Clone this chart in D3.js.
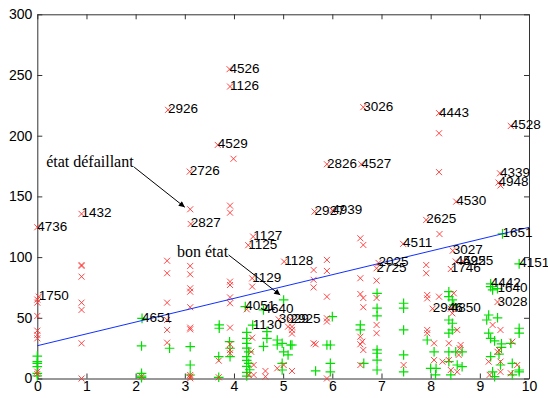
<!DOCTYPE html>
<html><head><meta charset="utf-8">
<script src="https://cdn.jsdelivr.net/npm/d3@7"></script>
<style>
html,body{margin:0;padding:0;background:#fff;}
svg{display:block;}
</style></head>
<body>
<svg id="chart" width="548" height="398"></svg>
<script>
// ---- data ----
const xTicks = [0,1,2,3,4,5,6,7,8,9,10];
const yTicks = [0,50,100,150,200,250,300];

// failing state (red x), unlabeled
const failing = [
 [0,65],[0,62.5],[0,51.5],[0,39.4],[0,35.9],[0,33.1],[0,5.6],[0,3.7],
 [0.9,93.5],[0.9,92.7],[0.9,83.9],[0.9,62.5],[0.9,56.5],[0.9,29],[0.9,0],
 [2.12,1.5],
 [2.64,97],[2.64,86.7],[2.64,62.5],[2.64,48.2],[2.64,40],[2.64,29.5],
 [3.11,139.4],[3.11,92.7],[3.11,85.8],[3.11,74.3],[3.11,71.5],[3.11,58.7],[3.11,41.9],[3.11,40.5],[3.11,2.9],[3.11,1.5],[3.11,0.2],
 [3.69,14.7],[3.69,1],
 [3.99,181],[3.92,142.4],[3.92,136.6],[3.92,79.8],[3.92,77],[3.92,66.8],[3.92,62],[3.92,41.9],[3.92,28.2],[3.92,23.5],[3.92,20.8],
 [4.37,75.7],[4.26,57],[4.37,33.6],[4.30,2.9],[4.40,2.9],[4.40,11.1],[4.35,22],
 [4.64,6.2],[4.88,8.4],[5.01,11.1],[5.18,6.2],[4.64,1.5],[5.18,40],[5.18,37],[5.18,42.7],[5.10,42.7],
 [5.62,89.4],[5.62,81.3],[5.62,75],[5.62,29],[5.66,28.2],
 [5.89,97.7],[5.89,88.6],[5.89,67.4],[5.89,49.6],[5.89,46.9],[5.89,0],
 [6.57,115.5],[6.63,110],[6.57,82.6],[6.57,69.6],[6.63,66.3],[6.63,58.7],[6.57,34.4],[6.61,30.3],[6.57,28.2],[6.63,23.5],[6.57,11.1],
 [6.90,80.6],[6.90,66.3],[6.90,44.1],[6.90,37.3],
 [7.45,11.1],
 [8.17,202],[8.17,170],[8.18,119],[7.91,93.5],[7.91,86.7],[7.93,68.8],[7.93,66],[8.17,67.4],[7.93,40],[7.93,37.3],[8.07,29],[8.07,15.2],[8.24,13.9],
 [8.47,70.2],[8.44,53.7],[8.54,40],[8.37,29],[8.61,27.6],[8.59,24.9],[8.37,15.2],[8.57,19.4],[8.41,7],[8.54,5.5],
 [9.42,159],[9.26,44.1],[9.42,40],[9.66,30.3],[9.39,23.5],[9.36,22],[9.18,13.9],[9.42,13.9],[9.76,11.1],[9.42,5.5],[9.63,4.3],[9.20,3]
];

// good state (green +), unlabeled
const good = [
 [0,18.5],[0,13.9],[0,12.5],[0,9.7],[0,4.3],[0,2.1],
 [2.12,26.8],[2.12,4.3],[2.12,2],[2.12,0.7],
 [2.69,24.9],
 [3.11,26.2],[3.11,11.1],[3.11,2.9],
 [3.70,44.1],[3.70,41.4],[3.69,18],[3.69,1],
 [3.91,30.3],[3.92,24.9],[3.92,18],
 [4.26,38],[4.26,33.1],[4.26,29],[4.26,25],[4.30,22],[4.26,18],[4.26,15],[4.30,12.5],[4.26,10],[4.32,7.2],[4.26,5],[4.26,2],
 [4.67,38.6],[4.67,33],[4.60,26.5],[4.88,31.7],[4.88,27.6],[5.01,64.7],[5.01,22],[5.15,27.6],[4.98,7],[4.98,29],[4.98,12.5],[5.10,19.4],[5.18,27.6],
 [5.66,6.2],[5.89,27.6],[6.0,51],[5.96,27.6],[5.96,12.5],[5.96,5.5],
 [6.57,44.1],[6.57,40],[6.64,12.5],[6.91,70.2],[6.91,57.9],[6.91,51.6],[6.91,23.5],[6.91,20.8],[6.91,15.2],[6.91,7],
 [7.45,62],[7.45,57.9],[7.45,40],[7.45,19.4],[7.45,5.5],
 [7.93,31.7],[8.0,8.4],[8.07,22],[8.11,8.4],[8.10,3],
 [8.37,71.5],[8.44,64.7],[8.37,67.4],[8.47,60.6],[8.37,48.2],[8.44,45.5],[8.37,37.3],[8.44,40],[8.37,22],[8.51,22],[8.64,22],[8.37,13.9],[8.54,11.1],[8.64,9.7],[8.41,3],
 [9.22,75.7],[9.26,73],[9.18,52.3],[9.14,48.2],[9.36,50],[9.80,41.4],[9.80,37.3],[9.18,37.3],[9.22,33],[9.30,31],[9.44,28.5],[9.44,25.6],[9.39,20],[9.22,18],[9.66,12.5],[9.42,11.1],[9.26,5.5],[9.80,7],[9.30,1.5],[9.66,3],[9.63,29],[9.80,5.5]
];

// labeled points: [x, y, label, class]  class "f" = failing, "g" = good
const labeled = [
 [3.91,254.8,"4526","f"],[3.92,240.5,"1126","f"],[2.66,221.3,"2926","f"],[3.67,192.4,"4529","f"],
 [3.10,170.4,"2726","f"],[6.63,223.5,"3026","f"],[8.17,218.6,"4443","f"],[9.63,208,"4528","f"],
 [5.89,176.5,"2826","f"],[6.59,176.5,"4527","f"],[9.41,169,"4339","f"],[9.38,161.4,"4948","f"],
 [8.52,145.7,"4530","f"],[7.91,130.6,"2625","f"],[7.44,110.9,"4511","f"],[8.45,105.3,"3027","f"],
 [5.64,137.5,"2927","f"],[6.0,138.5,"4939","f"],[0.90,135.6,"1432","f"],[0.0,124.6,"4736","f"],
 [3.12,127.3,"2827","f"],[4.39,116.9,"1127","f"],[4.29,109.8,"1125","f"],[5.02,96.3,"1128","f"],
 [4.37,82.5,"1129","f"],[4.91,48.7,"3029","f"],[5.15,48.7,"2925","f"],[0.03,67.4,"1750","f"],
 [8.04,57.5,"2946","f"],[8.41,57.5,"4850","f"],[9.36,63,"3028","f"],[8.41,90.2,"1746","f"],
 [8.51,96.4,"4525","f"],[8.66,96.4,"4925","f"],[6.94,95.2,"2025","f"],[6.90,90.8,"2725","f"],
 [2.13,49.5,"4651","g"],[9.46,119.1,"1651","g"],[9.80,94.4,"4151","g"],[9.22,78,"4442","g"],
 [9.36,74,"1640","g"],[4.23,59.2,"4051","g"],[4.60,56.5,"4640","g"],[4.38,44,"1130","g"]
];

// regression line
const lineX = [0, 10];
const lineY = [27, 124.5];

// annotations: text, text end point, arrow start, arrow end (data units)
const annotations = [
 {text:"état défaillant", tx:1.96, ty:174.1, x1:1.97, y1:174.1, x2:3.0, y2:141.1},
 {text:"bon état", tx:3.88, ty:100.4, x1:3.89, y1:101.8, x2:4.94, y2:68.8}
];

// ---- drawing ----
const svg = d3.select("#chart");
const x = d3.scaleLinear().domain([0,10]).range([37.3, 529]);
const y = d3.scaleLinear().domain([0,300]).range([378.5, 14.3]);

const RED = "#ff3030", GREEN = "#00e000";

const tickFont = "'Liberation Sans', Arial, Helvetica, sans-serif";
function styleAxis(g){
  g.selectAll("path.domain").attr("stroke","#333").attr("stroke-width",1);
  g.selectAll(".tick line").attr("stroke","#333");
  g.selectAll("text").attr("font-family",tickFont).attr("font-size",14).attr("fill","#000");
}
svg.append("g").attr("transform",`translate(0,${y(0)})`)
  .call(d3.axisBottom(x).tickValues(xTicks).tickSize(-5).tickSizeOuter(0).tickPadding(3).tickFormat(d3.format("d")))
  .call(styleAxis);
svg.append("g").attr("transform",`translate(0,${y(300)})`)
  .call(d3.axisTop(x).tickValues(xTicks).tickSize(-5).tickSizeOuter(0).tickFormat(""))
  .call(styleAxis);
svg.append("g").attr("transform",`translate(${x(0)},0)`)
  .call(d3.axisLeft(y).tickValues(yTicks).tickSize(-5).tickSizeOuter(0).tickPadding(5).tickFormat(d3.format("d")))
  .call(styleAxis);
svg.append("g").attr("transform",`translate(${x(10)},0)`)
  .call(d3.axisRight(y).tickValues(yTicks).tickSize(-5).tickSizeOuter(0).tickFormat(""))
  .call(styleAxis);

const plot = svg.append("g");

function drawCross(sel, s){
  return sel.attr("d", d => {
    const cx = x(d[0]), cy = y(d[1]);
    return `M${cx-s},${cy-s}L${cx+s},${cy+s}M${cx-s},${cy+s}L${cx+s},${cy-s}`;
  });
}
function drawPlus(sel, s){
  return sel.attr("d", d => {
    const cx = x(d[0]), cy = y(d[1]);
    return `M${cx-s},${cy}L${cx+s},${cy}M${cx},${cy-s}L${cx},${cy+s}`;
  });
}

plot.selectAll("path.good").data(good.concat(labeled.filter(d=>d[3]==="g"))).enter()
  .append("path").attr("class","good").call(drawPlus, 4.8)
  .attr("stroke",GREEN).attr("stroke-width",1.2).attr("fill","none");

plot.selectAll("path.fail").data(failing.concat(labeled.filter(d=>d[3]==="f"))).enter()
  .append("path").attr("class","fail").call(drawCross, 3)
  .attr("stroke",RED).attr("stroke-width",0.9).attr("fill","none");

plot.append("path")
  .datum(lineX.map((v,i)=>[v,lineY[i]]))
  .attr("d", d3.line().x(d=>x(d[0])).y(d=>y(d[1])))
  .attr("stroke","#1030ff").attr("stroke-width",1).attr("fill","none");

plot.selectAll("text.lab").data(labeled).enter()
  .append("text").attr("class","lab")
  .attr("x", d => x(d[0]))
  .attr("y", d => y(d[1]) + 3.5)
  .attr("font-family", tickFont).attr("font-size", 13.5).attr("fill","#000")
  .text(d => d[2]);

const defs = svg.append("defs");
defs.append("marker").attr("id","arr").attr("viewBox","0 0 10 10")
  .attr("refX",10).attr("refY",5).attr("markerWidth",8).attr("markerHeight",6)
  .attr("markerUnits","userSpaceOnUse").attr("orient","auto")
  .append("path").attr("d","M0,0L10,5L0,10Z").attr("fill","#000");

const ann = svg.append("g");
ann.selectAll("text").data(annotations).enter().append("text")
  .attr("x", d => x(d.tx)).attr("y", d => y(d.ty))
  .attr("text-anchor","end")
  .attr("font-family","'Liberation Serif', 'Times New Roman', serif")
  .attr("font-size",16).attr("fill","#000")
  .text(d => d.text);
ann.selectAll("line").data(annotations).enter().append("line")
  .attr("x1", d => x(d.x1)).attr("y1", d => y(d.y1))
  .attr("x2", d => x(d.x2)).attr("y2", d => y(d.y2))
  .attr("stroke","#000").attr("stroke-width",1)
  .attr("marker-end","url(#arr)");
</script>
</body></html>
